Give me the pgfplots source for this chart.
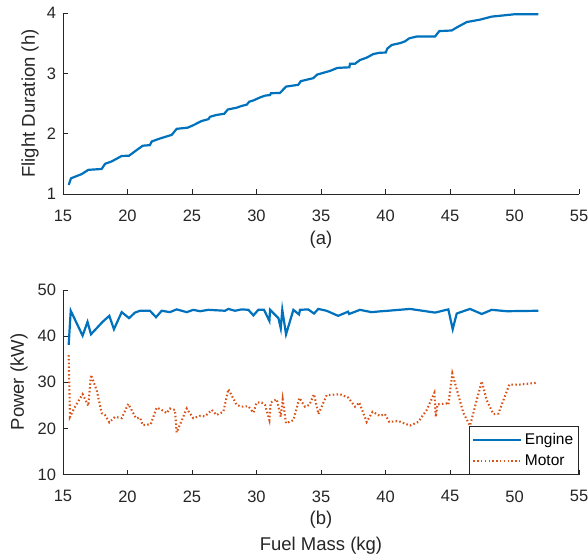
\documentclass[border=0pt]{standalone}
\usepackage{pgfplots}
\pgfplotsset{compat=1.18}
\usepackage{fontspec}
\setmainfont{Liberation Sans}
\definecolor{mblue}{rgb}{0,0.447,0.741}
\definecolor{morange}{rgb}{0.85,0.325,0.098}
\definecolor{axgray}{rgb}{0.15,0.15,0.15}
\pgfplotsset{
  mystyle/.style={
    scale only axis, width=516pt,
    xmin=15, xmax=55,
    xtick={15,20,...,55},
    axis x line*=bottom, axis y line*=left,
    axis line style={axgray, line width=0.9pt, -},
    every tick/.style={axgray, line width=0.9pt},
    tick align=inside, major tick length=5pt,
    /pgf/number format/assume math mode=true,
    tick label style={font=\fontsize{16.5}{19}\selectfont, text=axgray},
    xticklabel style={yshift=-12.5pt},
    yticklabel style={xshift=-3.5pt},
  }
}
\begin{document}
\begin{tikzpicture}
\useasboundingbox (-63pt,-362pt) rectangle (525pt,194pt);
\begin{axis}[mystyle, at={(0pt,0pt)}, anchor=south west, height=181pt,
  ymin=1, ymax=4, ytick={1,2,3,4}]
\addplot[mblue, line width=2.2pt] coordinates {
(15.44,1.15) (15.62,1.26) (16.45,1.33) (16.96,1.40) (18.0,1.415) (18.26,1.50)
(18.77,1.54) (19.55,1.63) (20.12,1.635) (20.66,1.72) (21.18,1.80) (21.74,1.81)
(21.87,1.87) (22.52,1.92) (23.43,1.98) (23.81,2.08) (24.67,2.10) (25.1,2.14)
(25.75,2.21) (26.27,2.24) (26.4,2.28) (26.9,2.31) (27.5,2.33) (27.77,2.40)
(28.46,2.43) (28.85,2.46) (29.24,2.48) (29.44,2.53) (29.75,2.55) (30.27,2.60)
(30.66,2.63) (31.05,2.64) (31.12,2.67) (31.82,2.675) (32.29,2.78) (33.24,2.81)
(33.43,2.87) (34.4,2.92) (34.71,2.98) (35.7,3.04) (36.27,3.09) (37.2,3.10)
(37.25,3.16) (37.64,3.16) (38.02,3.22) (38.54,3.26) (39.06,3.32) (39.52,3.34)
(40.02,3.345) (40.14,3.41) (40.48,3.47) (41.12,3.50) (41.51,3.53) (41.84,3.58)
(42.42,3.61) (43.84,3.61) (44.17,3.70) (45.13,3.71) (45.52,3.76) (46.3,3.85)
(47.33,3.89) (48.23,3.94) (49.14,3.96) (50.04,3.98) (51.85,3.98)
};
\end{axis}
\begin{axis}[mystyle, at={(0pt,-280.5pt)}, anchor=south west, height=184.5pt,
  ymin=10, ymax=50, ytick={10,20,...,50},
  legend style={at={(1,0)}, anchor=south east, draw=axgray, line width=0.6pt,
    fill=white, font=\fontsize{15.5}{18}\selectfont, inner xsep=3pt, inner ysep=5pt,
    row sep=3.5pt, nodes={inner sep=2.5pt, text=black}},
  legend cell align=left,
  legend image code/.code={\draw[#1] (0pt,0pt) -- (48pt,0pt);}]
\addplot[mblue, line width=2.2pt] coordinates {
(15.44,38.1) (15.6,45.5) (16.52,40.1) (16.9,43.1) (17.17,40.4) (18.07,43.1)
(18.59,44.4) (18.95,41.5) (19.55,45.2) (20.12,43.9) (20.58,45.1) (20.97,45.5)
(21.74,45.5) (22.21,44.1) (22.65,45.5) (23.29,45.2) (23.81,45.8) (24.59,45.2)
(25.1,45.7) (25.62,45.4) (26.27,45.7) (27.56,45.5) (27.82,45.9) (28.33,45.5)
(28.85,45.8) (29.37,45.7) (29.76,44.5) (30.14,45.7) (30.58,45.7) (31.0,43.3)
(31.05,45.7) (31.7,43.9) (31.88,41.7) (32.0,45.7) (32.29,40.4) (32.86,45.7)
(33.3,44.7) (33.37,45.7) (34.0,45.8) (34.46,44.9) (34.79,45.9) (35.43,45.5)
(36.33,44.4) (37.1,45.3) (37.18,44.8) (38.02,45.7) (38.92,45.2) (39.7,45.4)
(40.2,45.5) (41.9,45.9) (43.84,45.1) (44.87,45.8) (45.21,41.5) (45.52,44.9)
(46.55,45.9) (47.46,44.8) (48.23,45.7) (49.4,45.4) (51.85,45.5)
};
\addlegendentry{Engine}
\addplot[morange, line width=2.1pt, dash pattern=on 1.5pt off 2.3pt] coordinates {
(15.44,35.9) (15.54,22.5) (15.93,24.7) (16.52,27.4) (16.96,24.9) (17.17,31.6)
(17.61,28.3) (18.0,23.3) (18.26,22.9) (18.59,21.3) (19.03,22.5) (19.55,22.2)
(20.06,25.3) (20.66,22.2) (20.97,22.3) (21.18,20.7) (21.8,20.9) (22.26,24.5)
(22.6,24.1) (23.04,23.3) (23.29,24.3) (23.68,24.0) (23.81,19.1) (24.59,24.3)
(25.1,22.2) (25.62,22.7) (26.0,22.6) (26.53,24.0) (26.9,22.9) (27.43,23.6)
(27.82,28.5) (28.46,25.1) (28.85,24.7) (29.37,24.8) (29.76,23.4) (30.01,25.6)
(30.4,25.6) (30.66,25.1) (31.0,21.8) (31.1,25.6) (31.57,26.3) (31.88,22.5)
(32.03,26.3) (32.29,21.1) (32.86,21.8) (33.33,26.6) (33.76,24.7) (34.1,25.1)
(34.46,27.4) (34.8,23.1) (35.44,27.2) (36.47,27.4) (37.1,26.7) (37.64,24.7)
(37.97,25.6) (38.54,21.4) (39.0,23.6) (39.57,22.7) (39.95,23.1) (40.29,21.4)
(40.99,21.6) (41.9,20.6) (42.54,21.4) (43.2,24.0) (43.79,27.7) (43.9,22.5)
(44.03,25.2) (44.75,25.4) (44.87,25.1) (45.18,31.9) (45.47,29.0) (46.04,23.3)
(46.55,20.6) (47.46,30.2) (47.85,26.1) (48.36,23.1) (48.75,23.2) (49.6,29.5)
(50.43,29.5) (51.77,29.9)
};
\addlegendentry{Motor}
\end{axis}
\begin{scope}[every node/.style={font=\fontsize{18.5}{22}\selectfont, text=axgray}]
\node[rotate=90] at (-33pt,90.5pt) {Flight Duration (h)};
\node[rotate=90] at (-44pt,-188pt) {Power (kW)};
\node at (258pt,-46pt) {(a)};
\node at (258pt,-326pt) {(b)};
\node at (258pt,-352pt) {Fuel Mass (kg)};
\end{scope}
\end{tikzpicture}
\end{document}
